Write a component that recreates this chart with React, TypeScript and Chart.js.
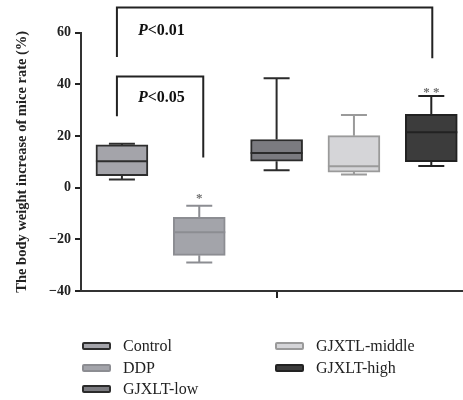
import React, { useEffect, useRef } from "react";
import { Chart, registerables } from "chart.js";

Chart.register(...registerables);

const categories = ["Control", "DDP", "GJXLT-low", "GJXTL-middle", "GJXLT-high"];
const whiskerMin = [3.1, -29, 6.7, 5.1, 8.4];
const q1 = [4.6, -26.2, 10.2, 6.0, 10.0];
const median = [10.2, -17.3, 13.4, 8.3, 21.4];
const q3 = [16.5, -11.5, 18.6, 20.1, 28.3];
const whiskerMax = [17.0, -7.0, 42.3, 28.1, 35.4];
const starLabels = ["", "*", "", "", "* *"];
const starValues = [0, -3, 0, 0, 38];
const yTicks = [-40, -20, 0, 20, 40, 60];

// brackets: left group index, right group index, end values, top value, label, label value
const bracketLeft = [0, 0];
const bracketRight = [4, 1];
const bracketLeftEnd = [50.5, 27.6];
const bracketRightEnd = [50, 11.6];
const bracketTop = [69.7, 43];
const bracketLabels = ["<0.01", "<0.05"];
const bracketLabelValues = [60.5, 34.7];

const fills = ["#a4a4aa", "#a3a4aa", "#7b7b80", "#d5d5d8", "#3c3c3c"];
const borders = ["#2e2e2e", "#8c8d92", "#2b2b2b", "#9a9a9a", "#222222"];

const serif = "'Liberation Serif', 'Times New Roman', serif";

export default function App() {
  const ref = useRef<HTMLCanvasElement | null>(null);

  useEffect(() => {
    if (!ref.current) return;
    const boxPlugin = {
      id: "boxExtras",
      afterDatasetsDraw(chart: any) {
        const ctx = chart.ctx;
        const y = chart.scales.y;
        ctx.save();
        categories.forEach((_, i) => {
          const el = chart.getDatasetMeta(i).data[0];
          if (!el) return;
          const cx = el.x;
          const half = el.width / 2;
          ctx.strokeStyle = borders[i];
          ctx.lineWidth = 2;
          ctx.lineCap = "butt";
          ctx.beginPath();
          ctx.moveTo(cx, y.getPixelForValue(q3[i]));
          ctx.lineTo(cx, y.getPixelForValue(whiskerMax[i]));
          ctx.moveTo(cx, y.getPixelForValue(q1[i]));
          ctx.lineTo(cx, y.getPixelForValue(whiskerMin[i]));
          ctx.moveTo(cx - 13, y.getPixelForValue(whiskerMax[i]));
          ctx.lineTo(cx + 13, y.getPixelForValue(whiskerMax[i]));
          ctx.moveTo(cx - 13, y.getPixelForValue(whiskerMin[i]));
          ctx.lineTo(cx + 13, y.getPixelForValue(whiskerMin[i]));
          ctx.moveTo(cx - half, y.getPixelForValue(median[i]));
          ctx.lineTo(cx + half, y.getPixelForValue(median[i]));
          ctx.stroke();
          if (starLabels[i]) {
            ctx.fillStyle = "#707070";
            ctx.font = `bold 13px ${serif}`;
            ctx.textAlign = "center";
            ctx.textBaseline = "middle";
            ctx.fillText(starLabels[i], cx, y.getPixelForValue(starValues[i]) + 3);
          }
        });
        ctx.restore();
      },
      afterDraw(chart: any) {
        const ctx = chart.ctx;
        const y = chart.scales.y;
        ctx.save();
        ctx.strokeStyle = "#222";
        ctx.lineWidth = 2;
        bracketTop.forEach((top, k) => {
          const l = chart.getDatasetMeta(bracketLeft[k]).data[0].x - 5;
          const r = chart.getDatasetMeta(bracketRight[k]).data[0].x + (k === 0 ? 1 : 4);
          ctx.beginPath();
          ctx.moveTo(l, y.getPixelForValue(bracketLeftEnd[k]));
          ctx.lineTo(l, y.getPixelForValue(top));
          ctx.lineTo(r, y.getPixelForValue(top));
          ctx.lineTo(r, y.getPixelForValue(bracketRightEnd[k]));
          ctx.stroke();
          const ty = y.getPixelForValue(bracketLabelValues[k]);
          ctx.fillStyle = "#111";
          ctx.textBaseline = "middle";
          ctx.textAlign = "left";
          ctx.font = `italic bold 16px ${serif}`;
          const px = l + 21;
          ctx.fillText("P", px, ty);
          const w = ctx.measureText("P").width;
          ctx.font = `bold 16px ${serif}`;
          ctx.fillText(bracketLabels[k], px + w, ty);
        });
        ctx.restore();
      },
    };

    const chart = new Chart(ref.current, {
      type: "bar",
      data: {
        datasets: categories.map((c, i) => ({
          label: c,
          data: [{ x: i + 1, y: [q1[i], q3[i]] }] as any,
          backgroundColor: fills[i],
          borderColor: borders[i],
          borderWidth: 2,
          borderSkipped: false,
          barThickness: 52,
          grouped: false,
        })),
      },
      options: {
        responsive: false,
        animation: false,
        layout: { padding: { left: 9, right: 0, top: 32.5, bottom: 102 } },
        plugins: { legend: { display: false }, tooltip: { enabled: false } },
        scales: {
          x: {
            type: "linear",
            min: 0.471,
            max: 5.41,
            offset: false,
            afterBuildTicks: (s: any) => {
              s.ticks = [{ value: 3 }];
            },
            ticks: { display: false },
            grid: { drawOnChartArea: false, offset: false, tickLength: 7, color: "#222", lineWidth: 2 },
            border: { color: "#333", width: 2 },
          },
          y: {
            min: -40,
            max: 60,
            afterBuildTicks: (s: any) => {
              s.ticks = yTicks.map((v) => ({ value: v }));
            },
            afterFit: (s: any) => {
              s.width = 72;
            },
            ticks: {
              color: "#222",
              padding: 4,
              font: { family: serif, size: 14, weight: "bold" },
              callback: (v: any) => String(v).replace("-", "\u2212"),
            },
            grid: { drawOnChartArea: false, tickLength: 6, color: "#222", lineWidth: 2 },
            border: { color: "#333", width: 2 },
            title: {
              display: true,
              text: "The body weight increase of mice rate (%)",
              color: "#222",
              font: { family: serif, size: 14.5, weight: "bold" },
              padding: { top: 5, bottom: 3 },
            },
          },
        },
      },
      plugins: [boxPlugin],
    });
    return () => chart.destroy();
  }, []);

  const legendLeft = [0, 1, 2];
  const legendRight = [3, 4];
  const item = (i: number, x: number, y: number) => (
    <div key={i} style={{ position: "absolute", left: x, top: y, height: 20, display: "flex", alignItems: "center" }}>
      <div
        style={{
          width: 25,
          height: 4,
          background: fills[i],
          border: `2px solid ${borders[i]}`,
          borderRadius: 2,
        }}
      />
      <span style={{ marginLeft: 12, fontFamily: serif, fontSize: 16, color: "#222", whiteSpace: "nowrap" }}>
        {categories[i]}
      </span>
    </div>
  );

  return (
    <div style={{ position: "absolute", left: 0, top: 0, width: 463, height: 400, background: "#fff" }}>
      <canvas ref={ref} width={463} height={400} style={{ width: 463, height: 400, display: "block" }} />
      {legendLeft.map((i, k) => item(i, 82, 336 + k * 21.5))}
      {legendRight.map((i, k) => item(i, 275, 336 + k * 21.5))}
    </div>
  );
}
